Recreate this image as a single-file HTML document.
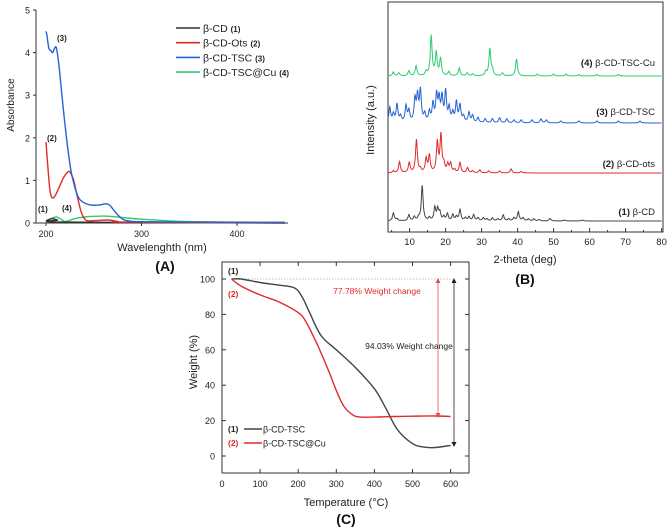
<!DOCTYPE html>
<html><head><meta charset="utf-8"><style>
body{margin:0;background:#fff;}
svg{display:block;font-family:"Liberation Sans",Arial,sans-serif;}
</style></head><body>
<svg id="fig" width="669" height="529" viewBox="0 0 669 529" xmlns="http://www.w3.org/2000/svg"></svg>
<script>
// ---------- Panel A data (UV-Vis) ----------
const uvCdX=[200,204,207,212,220,450];
const uvCdY=[0.05,0.09,0.1,0.07,0.02,0.0];
const uvOtsX=[200,202,204,206,209,213,218,222,225,229,233,237,241,245,255,265,275,285,450];
const uvOtsY=[1.9,1.3,0.8,0.6,0.62,0.8,1.05,1.18,1.2,1.0,0.6,0.25,0.08,0.05,0.06,0.07,0.04,0.02,0.0];
const uvTscX=[200,201,203,205,207,209,211,214,218,222,226,230,234,238,245,255,262,266,270,276,282,290,300,350,450];
const uvTscY=[4.5,4.4,4.1,4.05,4.0,4.1,4.1,3.6,2.7,1.9,1.25,0.85,0.6,0.5,0.43,0.42,0.45,0.43,0.33,0.17,0.07,0.04,0.03,0.02,0.01];
const uvCuX=[200,204,208,211,215,219,223,230,240,255,265,280,300,330,360,400,450];
const uvCuY=[0.03,0.09,0.13,0.14,0.1,0.04,0.05,0.1,0.14,0.16,0.16,0.13,0.09,0.05,0.03,0.02,0.02];
const aXTicks=[200,300,400];
const aYTicks=[0,1,2,3,4,5];

// ---------- Panel B data (XRD peaks: position deg, relative height) ----------
const xrdCdPos=[5.5,6.5,9.8,11.3,12.5,13.5,15.5,17,17.8,18.4,19.5,20.5,22,23,24,25.5,26.5,27.8,29,30.5,31.5,33,34.5,36,37.5,39,40.2,41.5,43,44.5,46,49,53,58];
const xrdCdH=[8,2,6,4,3,35,3,13,11,8,4,7,6,4,11,3,4,6,3,3,2,3,2,6,2,3,9,3,2,2,1.5,2.5,1,1];
const xrdOtsPos=[5.5,7.2,9.9,11.9,13,14.6,15.5,17.7,18.7,19.5,20.6,21.4,22.5,24,26.1,27.5,29.5,32,35,38.2,41];
const xrdOtsH=[2,11,10,33,3,14,17,30,37,8,8,9,3,10,5,2,3,2,2,4,1.5];
const xrdTscPos=[4.5,5.5,6.5,7.5,9,9.8,11.5,12.2,13,14.2,15.5,16.5,17.5,18.2,19,20,21,22,23,24,25,26.5,27.5,29,31,33,35,37,39,41,44,46.5,48,52,57,62,68,74];
const xrdTscH=[15,8,18,6,16,11,22,25,31,8,10,18,26,22,24,30,14,9,20,17,6,10,7,5,4,4,5,4,3,3,3,4,3,2,2,2,2,2];
const xrdCuPos=[5.5,7,9.8,11.8,14.6,16,17.4,18.6,20.9,23.8,26,27.5,31.2,32.3,33,35.8,39.7,45.5,50,53.5,57,62,68];
const xrdCuH=[4,3,5,10,4,40,23,17,4,8,3,2,4,27,5,3,17,2,2,2,1.5,1.5,1.5];
const bXTicks=[10,20,30,40,50,60,70,80];
const bLabels=["(1) β-CD","(2) β-CD-ots","(3) β-CD-TSC","(4) β-CD-TSC-Cu"];

// ---------- Panel C data (TGA) ----------
const tgTscX=[25,50,100,150,190,210,230,260,300,350,400,430,460,500,530,560,600];
const tgTscY=[100,100,98,96.5,95,90,81,68,60,50,38,27,15,7,5,4.8,6];
const tgCuX=[25,50,100,150,200,220,250,280,300,320,345,365,400,450,500,560,600];
const tgCuY=[100,96,91,87,81,76,63,48,37,28,23,22,22,22.3,22.5,22.6,22.3];
const cXTicks=[0,100,200,300,400,500,600];
const cYTicks=[0,20,40,60,80,100];

const NS="http://www.w3.org/2000/svg";
const svg=document.getElementById('fig');
function mk(tag,attrs,parent){const e=document.createElementNS(NS,tag);for(const k in attrs)e.setAttribute(k,attrs[k]);(parent||svg).appendChild(e);return e;}
function txt(s,x,y,attrs,parent){const t=mk('text',Object.assign({x:x,y:y,'font-size':10,fill:'#222'},attrs||{}),parent);t.textContent=s;return t;}
function smoothPath(pts){let d='M'+pts[0][0].toFixed(1)+','+pts[0][1].toFixed(1);
 for(let i=0;i<pts.length-1;i++){const p0=pts[Math.max(0,i-1)],p1=pts[i],p2=pts[i+1],p3=pts[Math.min(pts.length-1,i+2)];
  const c1x=p1[0]+(p2[0]-p0[0])/6,c1y=p1[1]+(p2[1]-p0[1])/6,c2x=p2[0]-(p3[0]-p1[0])/6,c2y=p2[1]-(p3[1]-p1[1])/6;
  d+=' C'+c1x.toFixed(1)+','+c1y.toFixed(1)+' '+c2x.toFixed(1)+','+c2y.toFixed(1)+' '+p2[0].toFixed(1)+','+p2[1].toFixed(1);}
 return d;}

// ===== Panel A =====
const gA=mk('g',{});

const ax=v=>46+(v-200)*0.955, ay=v=>223-v*42.6;
mk('line',{x1:36,y1:10,x2:36,y2:223,stroke:'#333','stroke-width':1},gA);
mk('line',{x1:36,y1:223,x2:288,y2:223,stroke:'#333','stroke-width':1},gA);
aYTicks.forEach(v=>{mk('line',{x1:33,y1:ay(v),x2:36,y2:ay(v),stroke:'#333'},gA);
 const t=txt(String(v),30,ay(v)+3.5,{'text-anchor':'end','font-size':9},gA);});
aXTicks.forEach(v=>{mk('line',{x1:ax(v),y1:223,x2:ax(v),y2:226,stroke:'#333'},gA);
 const t=txt(String(v),ax(v),237,{'text-anchor':'middle','font-size':9},gA);});
const aYT=txt('Absorbance',14,105,{'text-anchor':'middle','font-size':10,transform:'rotate(-90 14 105)'},gA);

const aXT=txt('Wavelenghth (nm)',162,251,{'text-anchor':'middle','font-size':11},gA);

const aP=txt('(A)',165,271,{'text-anchor':'middle','font-size':14,'font-weight':'bold',fill:'#111'},gA);

const uvSeries=[[uvCuX,uvCuY,'#2ecc6e'],[uvCdX,uvCdY,'#333'],[uvOtsX,uvOtsY,'#e02a2a'],[uvTscX,uvTscY,'#2563d6']];
uvSeries.forEach((s,i)=>{const p=mk('path',{d:smoothPath(s[0].map((x,j)=>[ax(x),ay(s[1][j])])),fill:'none',stroke:s[2],'stroke-width':1.4},gA);
 });
[['(1)',38,212],['(4)',62,211],['(2)',47,141],['(3)',57,41]].forEach(l=>{const t=txt(l[0],l[1],l[2],{'font-size':8,'font-weight':'bold'},gA);});
const aLeg=[['β-CD','(1)','#333'],['β-CD-Ots','(2)','#e02a2a'],['β-CD-TSC','(3)','#2563d6'],['β-CD-TSC@Cu','(4)','#2ecc6e']];
aLeg.forEach((l,i)=>{const y=28+i*14.7;const g=mk('g',{},gA);
 mk('line',{x1:176,y1:y,x2:200,y2:y,stroke:l[2],'stroke-width':1.6},g);
 const t=txt(l[0]+' ',203,y+4,{'font-size':10.5},g);const ts=mk('tspan',{'font-size':8,'font-weight':'bold'},t);ts.textContent=' '+l[1];});

// ===== Panel B =====
const gB=mk('g',{});

const bx=v=>388+(v-4)*3.6;
mk('rect',{x:388,y:2,width:275,height:230,fill:'none',stroke:'#333','stroke-width':1},gB);
bXTicks.forEach(v=>{mk('line',{x1:bx(v),y1:232,x2:bx(v),y2:228,stroke:'#333'},gB);mk('line',{x1:bx(v-5),y1:232,x2:bx(v-5),y2:230,stroke:'#333'},gB);
 const t=txt(String(v),bx(v),245,{'text-anchor':'middle','font-size':9.5},gB);});
const bXT=txt('2-theta (deg)',525,263,{'text-anchor':'middle','font-size':11},gB);
const bYT=txt('Intensity (a.u.)',374,120,{'text-anchor':'middle','font-size':11,transform:'rotate(-90 374 120)'},gB);
const bP=txt('(B)',525,284,{'text-anchor':'middle','font-size':14,'font-weight':'bold',fill:'#111'},gB);
const xrdSeries=[[xrdCdPos,xrdCdH,'#444',221],[xrdOtsPos,xrdOtsH,'#e02a2a',173],[xrdTscPos,xrdTscH,'#2563d6',123],[xrdCuPos,xrdCuH,'#2ecc6e',76]];
xrdSeries.forEach((s,si)=>{const pts=[];const w=0.3;
 for(let t=4;t<=80;t+=0.1){let y=0;for(let k=0;k<s[0].length;k++){const d=(t-s[0][k])/w;y+=s[1][k]/(1+d*d);}pts.push([bx(t),s[3]-y]);}
 const p=mk('path',{d:'M'+pts.map(p=>p[0].toFixed(1)+','+p[1].toFixed(1)).join('L'),fill:'none',stroke:s[2],'stroke-width':1},gB);
 
 const lab=bLabels[si];const t=txt('',655,[212,164,112,63][si]+3,{'text-anchor':'end','font-size':9.5},gB);
 
 const a=mk('tspan',{'font-weight':'bold'},t);a.textContent=lab.split(' ')[0]+' ';const b=mk('tspan',{},t);b.textContent=lab.split(' ')[1];});

// ===== Panel C =====
const gC=mk('g',{});

const cx=v=>222+v*0.381, cy=v=>456-v*1.77;
mk('rect',{x:222,y:262,width:247,height:211,fill:'none',stroke:'#333','stroke-width':1},gC);
cXTicks.forEach(v=>{mk('line',{x1:cx(v),y1:473,x2:cx(v),y2:469,stroke:'#333'},gC);mk('line',{x1:cx(v),y1:262,x2:cx(v),y2:266,stroke:'#333'},gC);
 const t=txt(String(v),cx(v),487,{'text-anchor':'middle','font-size':9},gC);});
cYTicks.forEach(v=>{mk('line',{x1:222,y1:cy(v),x2:226,y2:cy(v),stroke:'#333'},gC);mk('line',{x1:469,y1:cy(v),x2:465,y2:cy(v),stroke:'#333'},gC);
 const t=txt(String(v),215,cy(v)+3.5,{'text-anchor':'end','font-size':9},gC);});
const cXT=txt('Temperature (°C)',346,506,{'text-anchor':'middle','font-size':11},gC);
const cYT=txt('Weight (%)',197,362,{'text-anchor':'middle','font-size':11,transform:'rotate(-90 197 362)'},gC);
const cP=txt('(C)',346,524,{'text-anchor':'middle','font-size':14,'font-weight':'bold',fill:'#111'},gC);
mk('line',{x1:236,y1:cy(100),x2:450,y2:cy(100),stroke:'#aaa','stroke-width':0.8,'stroke-dasharray':'1.5,1.5'},gC);
[[tgTscX,tgTscY,'#444'],[tgCuX,tgCuY,'#e02a2a']].forEach(s=>{const p=mk('path',{d:smoothPath(s[0].map((x,j)=>[cx(x),cy(s[1][j])])),fill:'none',stroke:s[2],'stroke-width':1.4},gC);
 });
// arrows
const ar1=mk('g',{},gC);
mk('line',{x1:438,y1:281,x2:438,y2:414,stroke:'#e05050','stroke-width':0.8},ar1);
mk('path',{d:'M435.5,413 L438,418 L440.5,413 Z M435.5,283 L438,278 L440.5,283 Z',fill:'#e05050'},ar1);
const ar2=mk('g',{},gC);
mk('line',{x1:454,y1:281,x2:454,y2:443,stroke:'#222','stroke-width':0.8},ar2);
mk('path',{d:'M451.5,442 L454,447 L456.5,442 Z M451.5,283 L454,278 L456.5,283 Z',fill:'#222'},ar2);
const an1=txt('77.78% Weight change',377,294,{'text-anchor':'middle','font-size':8.5,fill:'#e02a2a'},gC);
const an2=txt('94.03% Weight change',409,349,{'text-anchor':'middle','font-size':8.5,fill:'#222'},gC);
const n1=txt('(1)',228,274,{'font-size':8.5,'font-weight':'bold'},gC);
const n2=txt('(2)',228,297,{'font-size':8.5,'font-weight':'bold',fill:'#e02a2a'},gC);
[['(1)','β-CD-TSC','#444','#222',429],['(2)','β-CD-TSC@Cu','#e02a2a','#e02a2a',443]].forEach(l=>{const g=mk('g',{},gC);
 
 txt(l[0],228,l[4]+3,{'font-size':8.5,'font-weight':'bold',fill:l[3]},g);
 mk('line',{x1:244,y1:l[4],x2:262,y2:l[4],stroke:l[2],'stroke-width':1.4},g);
 txt(l[1],263,l[4]+3.5,{'font-size':9},g);});
</script>
</body></html>
